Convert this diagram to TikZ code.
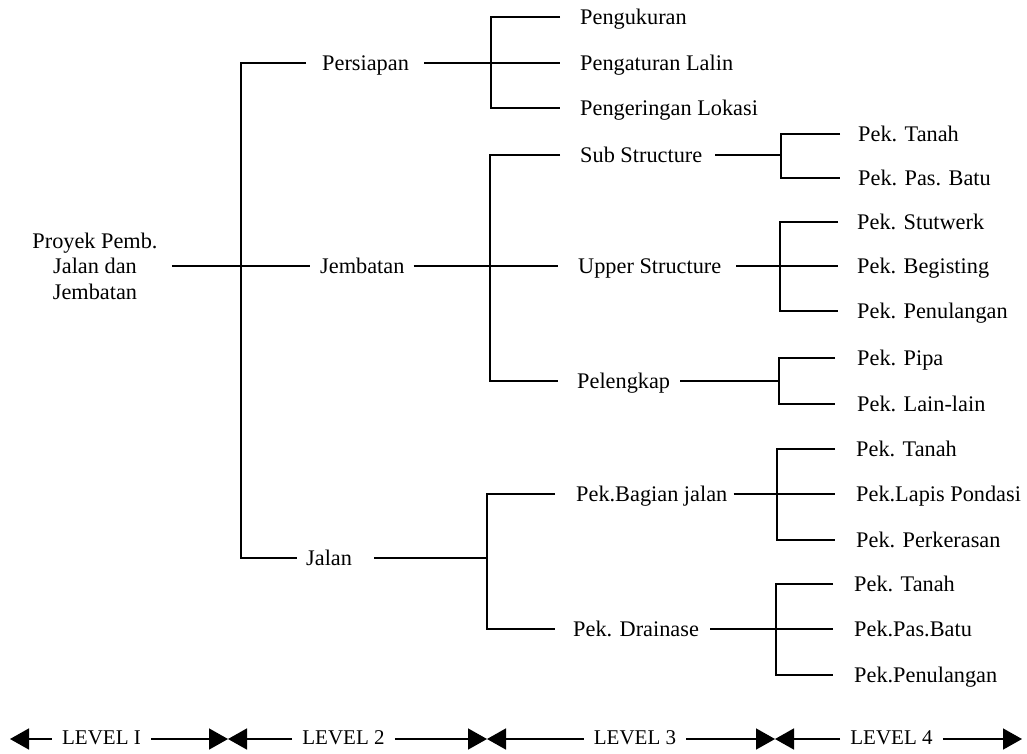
\documentclass[tikz,border=0pt]{standalone}
\usepackage{fontspec}
\setmainfont{Liberation Serif}
\usetikzlibrary{arrows.meta}
\begin{document}
\begin{tikzpicture}[x=1pt,y=-1pt,
  lbl/.style={text height=20pt, text depth=6pt, inner ysep=0pt, inner xsep=0pt,
    anchor=west, font=\fontsize{22.3}{26}\selectfont},
  lvl/.style={inner xsep=10pt, inner ysep=0pt, text height=15pt, text depth=5pt,
    font=\fontsize{21}{24}\selectfont},
  conn/.style={line width=1.6pt},
  lvarrow/.style={line width=1.6pt, -{Triangle[length=19pt,width=21pt]}}
]
\useasboundingbox (0,0) rectangle (1027,753);

% ---------- level 1 ----------
\node[font=\fontsize{22.3}{25.5}\selectfont, align=center, inner sep=0pt] (root) at (95,266)
  {Proyek Pemb.\\Jalan dan\\Jembatan};

% ---------- level 2 ----------
\node[lbl] (pers) at (322,63) {Persiapan};
\node[lbl] (jemb) at (320,266) {Jembatan};
\node[lbl] (jal)  at (306,558) {Jalan};

\coordinate (t1) at (241,0);
\draw[conn] ([xshift=-16pt]pers.west) -- (pers.west -| t1) -- (jal.west -| t1) -- ([xshift=-9pt]jal.west);
\draw[conn] ([xshift=14pt]root.east |- jemb.west) -- ([xshift=-10pt]jemb.west);

% ---------- level 3 (Persiapan) ----------
\node[lbl] (pu)  at (580,17)  {Pengukuran};
\node[lbl] (pl)  at (580,63)  {Pengaturan Lalin};
\node[lbl] (plk) at (580,108) {Pengeringan Lokasi};
\coordinate (b1) at (491,0);
\draw[conn] ([xshift=15pt]pers.east) -- ([xshift=-20pt]pl.west);
\draw[conn] ([xshift=-20pt]pu.west) -- (pu.west -| b1) -- (plk.west -| b1) -- ([xshift=-20pt]plk.west);

% ---------- level 3 (Jembatan) ----------
\node[lbl] (sub) at (580,155) {Sub Structure};
\node[lbl] (upp) at (578,266) {Upper Structure};
\node[lbl] (pel) at (577,381) {Pelengkap};
\coordinate (b2) at (490,0);
\draw[conn] ([xshift=9pt]jemb.east) -- ([xshift=-20pt]upp.west);
\draw[conn] ([xshift=-20pt]sub.west) -- (sub.west -| b2) -- (pel.west -| b2) -- ([xshift=-19pt]pel.west);

% ---------- level 3 (Jalan) ----------
\node[lbl] (bag) at (576,494) {Pek.Bagian jalan};
\node[lbl] (dra) at (573,629) {Pek. Drainase};
\coordinate (b3) at (487,0);
\draw[conn] ([xshift=22pt]jal.east) -- (jal.east -| b3);
\draw[conn] ([xshift=-21pt]bag.west) -- (bag.west -| b3) -- (dra.west -| b3) -- ([xshift=-18pt]dra.west);

% ---------- level 4 ----------
% Sub Structure
\node[lbl] (s1) at (858,134) {Pek. Tanah};
\node[lbl] (s2) at (858,178) {Pek. Pas. Batu};
\coordinate (c1) at (781,0);
\draw[conn] ([xshift=13pt]sub.east) -- (sub.east -| c1);
\draw[conn] ([xshift=-18pt]s1.west) -- (s1.west -| c1) -- (s2.west -| c1) -- ([xshift=-18pt]s2.west);

% Upper Structure
\node[lbl] (u1) at (857,222) {Pek. Stutwerk};
\node[lbl] (u2) at (857,266) {Pek. Begisting};
\node[lbl] (u3) at (857,311) {Pek. Penulangan};
\coordinate (c2) at (780,0);
\draw[conn] ([xshift=15pt]upp.east) -- ([xshift=-19pt]u2.west);
\draw[conn] ([xshift=-19pt]u1.west) -- (u1.west -| c2) -- (u3.west -| c2) -- ([xshift=-19pt]u3.west);

% Pelengkap
\node[lbl] (e1) at (857,358) {Pek. Pipa};
\node[lbl] (e2) at (857,404) {Pek. Lain-lain};
\coordinate (c3) at (779,0);
\draw[conn] ([xshift=10pt]pel.east) -- (pel.east -| c3);
\draw[conn] ([xshift=-22pt]e1.west) -- (e1.west -| c3) -- (e2.west -| c3) -- ([xshift=-22pt]e2.west);

% Pek. Bagian jalan
\node[lbl] (g1) at (856,449) {Pek. Tanah};
\node[lbl] (g2) at (856,494) {Pek.Lapis Pondasi};
\node[lbl] (g3) at (856,540) {Pek. Perkerasan};
\coordinate (c4) at (777,0);
\draw[conn] ([xshift=6pt]bag.east) -- ([xshift=-21pt]g2.west);
\draw[conn] ([xshift=-21pt]g1.west) -- (g1.west -| c4) -- (g3.west -| c4) -- ([xshift=-21pt]g3.west);

% Pek. Drainase
\node[lbl] (d1) at (854,584) {Pek. Tanah};
\node[lbl] (d2) at (854,629) {Pek.Pas.Batu};
\node[lbl] (d3) at (854,675) {Pek.Penulangan};
\coordinate (c5) at (776,0);
\draw[conn] ([xshift=11pt]dra.east) -- ([xshift=-21pt]d2.west);
\draw[conn] ([xshift=-21pt]d1.west) -- (d1.west -| c5) -- (d3.west -| c5) -- ([xshift=-21pt]d3.west);

% ---------- level bar ----------
\node[lvl] (L1) at (101.5,739) {LEVEL I};
\node[lvl] (L2) at (343.5,739) {LEVEL 2};
\node[lvl] (L3) at (635,739) {LEVEL 3};
\node[lvl] (L4) at (891.5,739) {LEVEL 4};
\coordinate (a0) at (10,739);
\coordinate (a1) at (228,739);
\coordinate (a2) at (487,739);
\coordinate (a3) at (775,739);
\coordinate (a4) at (1022,739);
\draw[lvarrow] (L1.west) -- (a0);
\draw[lvarrow] (L1.east) -- (a1);
\draw[lvarrow] (L2.west) -- (a1);
\draw[lvarrow] (L2.east) -- (a2);
\draw[lvarrow] (L3.west) -- (a2);
\draw[lvarrow] (L3.east) -- (a3);
\draw[lvarrow] (L4.west) -- (a3);
\draw[lvarrow] (L4.east) -- (a4);
\end{tikzpicture}
\end{document}
